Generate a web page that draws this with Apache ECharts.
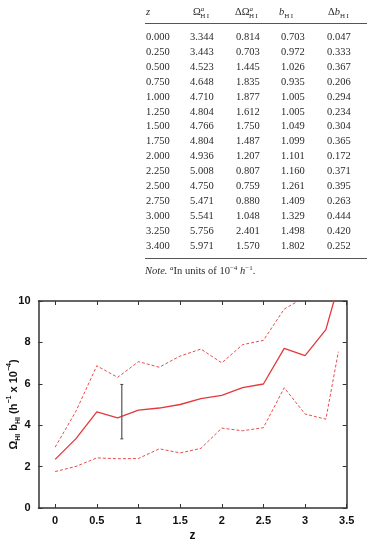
<!DOCTYPE html>
<html>
<head>
<meta charset="utf-8">
<script src="https://cdn.jsdelivr.net/npm/echarts@6/dist/echarts.min.js"></script>
<style>
  html, body { margin: 0; padding: 0; background: #fff; }
  #page { position: relative; width: 367px; height: 539px; overflow: hidden; }
  #chart { position: absolute; left: 0; top: 0; width: 367px; height: 539px; }
  #table { position: absolute; left: 0; top: 0; width: 367px; height: 290px;
    font-family: "Liberation Serif", "DejaVu Serif", serif; font-size: 10.5px; color: #2a2a2a; }
  #table .c { position: absolute; white-space: nowrap; line-height: 12px; }
  #table .rule { position: absolute; left: 145px; width: 222px; height: 1px; background: #555; }
  #table sup, #table sub { font-size: 7px; line-height: 0; }
</style>
</head>
<body>
<div id="page">
  <div id="chart"></div>
  <div id="table"></div>
</div>
<script>
// table columns
const zRows   = ['0.000','0.250','0.500','0.750','1.000','1.250','1.500','1.750','2.000','2.250','2.500','2.750','3.000','3.250','3.400']
const omega   = ['3.344','3.443','4.523','4.648','4.710','4.804','4.766','4.804','4.936','5.008','4.750','5.471','5.541','5.756','5.971']
const dOmega  = ['0.814','0.703','1.445','1.835','1.877','1.612','1.750','1.487','1.207','0.807','0.759','0.880','1.048','2.401','1.570']
const bias    = ['0.703','0.972','1.026','0.935','1.005','1.005','1.049','1.099','1.101','1.160','1.261','1.409','1.329','1.498','1.802']
const dBias   = ['0.047','0.333','0.367','0.206','0.294','0.234','0.304','0.365','0.172','0.371','0.395','0.263','0.444','0.420','0.252']

// curves
const zVals   = [0, 0.25, 0.5, 0.75, 1.0, 1.25, 1.5, 1.75, 2.0, 2.25, 2.5, 2.75, 3.0, 3.25, 3.4]
const midVals = [2.35, 3.35, 4.64, 4.35, 4.73, 4.83, 5.00, 5.28, 5.44, 5.81, 5.99, 7.71, 7.36, 8.62, 10.76]
const upVals  = [2.94, 4.68, 6.87, 6.31, 7.07, 6.80, 7.34, 7.68, 7.01, 7.89, 8.10, 9.61, 10.19, 12.96, 13.96]
const lowVals = [1.76, 2.01, 2.42, 2.38, 2.39, 2.86, 2.66, 2.88, 3.86, 3.73, 3.88, 5.81, 4.54, 4.29, 7.55]
const errBar  = { z: 0.80, low: 3.34, high: 5.97 }
const xTicks  = [0, 0.5, 1, 1.5, 2, 2.5, 3, 3.5]

// ---- table (plain html) ----
const tbl = document.getElementById('table')
const colX = [146, 190, 236, 281, 327]
function cell(html, x, y) {
  const d = document.createElement('div')
  d.className = 'c'
  d.style.left = x + 'px'
  d.style.top = (y - 6) + 'px'
  d.innerHTML = html
  tbl.appendChild(d)
}
cell('<i>z</i>', 146, 12)
cell('&Omega;<sup><i>a</i></sup><sub style="margin-left:-4px">H&thinsp;I</sub>', 193, 12)
cell('&Delta;&Omega;<sup><i>a</i></sup><sub style="margin-left:-4px">H&thinsp;I</sub>', 235, 12)
cell('<i>b</i><sub>H&thinsp;I</sub>', 279, 12)
cell('&Delta;<i>b</i><sub>H&thinsp;I</sub>', 328, 12)
const rule1 = document.createElement('div'); rule1.className = 'rule'; rule1.style.top = '23px'; tbl.appendChild(rule1)
const cols = [zRows, omega, dOmega, bias, dBias]
zRows.forEach((_, i) => {
  const y = 37 + i * 14.9
  cols.forEach((col, j) => cell(col[i], colX[j], y))
})
const rule2 = document.createElement('div'); rule2.className = 'rule'; rule2.style.top = '258px'; tbl.appendChild(rule2)
cell('<i>Note.</i> <sup><i>a</i></sup>In units of 10<sup>&minus;4</sup> <i>h</i><sup>&minus;1</sup>.', 145, 271)

// ---- chart ----
const red = '#e5383b'
const pairs = vals => zVals.map((z, i) => [z, vals[i]])

const chart = echarts.init(document.getElementById('chart'))
const boxAxis = { show: true, onZero: false, lineStyle: { color: '#333', width: 1.5 } }
const tickStyle = { show: true, inside: true, length: 4, lineStyle: { color: '#333', width: 1 } }
const labelFont = { fontFamily: 'Liberation Sans, Arial, sans-serif', fontWeight: 'bold', fontSize: 11, color: '#111' }

chart.setOption({
  animation: false,
  grid: { left: 38.5, right: 20.3, top: 301, bottom: 31, containLabel: false, outerBoundsMode: 'none' },
  xAxis: [
    {
      type: 'value', min: -0.2, max: 3.5,
      axisLine: boxAxis,
      axisTick: { ...tickStyle, customValues: xTicks },
      axisLabel: { ...labelFont, customValues: xTicks, margin: 7 },
      splitLine: { show: false },
      name: 'z', nameLocation: 'middle', nameGap: 22, nameMoveOverlap: false,
      nameTextStyle: { ...labelFont, fontSize: 12 },
    },
    {
      type: 'value', position: 'top', min: -0.2, max: 3.5,
      axisLine: boxAxis,
      axisTick: { ...tickStyle, customValues: xTicks },
      axisLabel: { show: false },
      splitLine: { show: false },
    },
  ],
  yAxis: [
    {
      type: 'value', min: 0, max: 10, interval: 2,
      axisLine: boxAxis,
      axisTick: tickStyle,
      axisLabel: { ...labelFont, margin: 8 },
      splitLine: { show: false },
      name: '{a|Ω}{s|HI}{a| b}{s|HI}{a| (h}{p|−1}{a| x 10}{p|−4}{a|)}',
      nameLocation: 'middle', nameRotate: 90, nameGap: 17, nameMoveOverlap: false,
      nameTextStyle: {
        rich: {
          a: { ...labelFont, fontSize: 11, lineHeight: 16, verticalAlign: 'middle' },
          s: { ...labelFont, fontSize: 7, lineHeight: 8, verticalAlign: 'bottom' },
          p: { ...labelFont, fontSize: 7, lineHeight: 8, verticalAlign: 'top' },
        },
      },
    },
    {
      type: 'value', position: 'right', min: 0, max: 10, interval: 2,
      axisLine: boxAxis,
      axisTick: tickStyle,
      axisLabel: { show: false },
      splitLine: { show: false },
    },
  ],
  series: [
    {
      type: 'line', data: pairs(midVals), symbol: 'none', clip: true,
      lineStyle: { color: red, width: 1.3 },
    },
    {
      type: 'line', data: pairs(upVals), symbol: 'none', clip: true,
      lineStyle: { color: red, width: 1, type: [3, 2], opacity: 0.9 },
    },
    {
      type: 'line', data: pairs(lowVals), symbol: 'none', clip: true,
      lineStyle: { color: red, width: 1, type: [3, 2], opacity: 0.9 },
    },
    {
      type: 'line', data: [[errBar.z, errBar.low], [errBar.z, errBar.high]],
      symbol: 'rect', symbolSize: [3, 1], clip: true,
      itemStyle: { color: '#444' },
      lineStyle: { color: '#555', width: 1.2 },
    },
  ],
})
</script>
</body>
</html>
